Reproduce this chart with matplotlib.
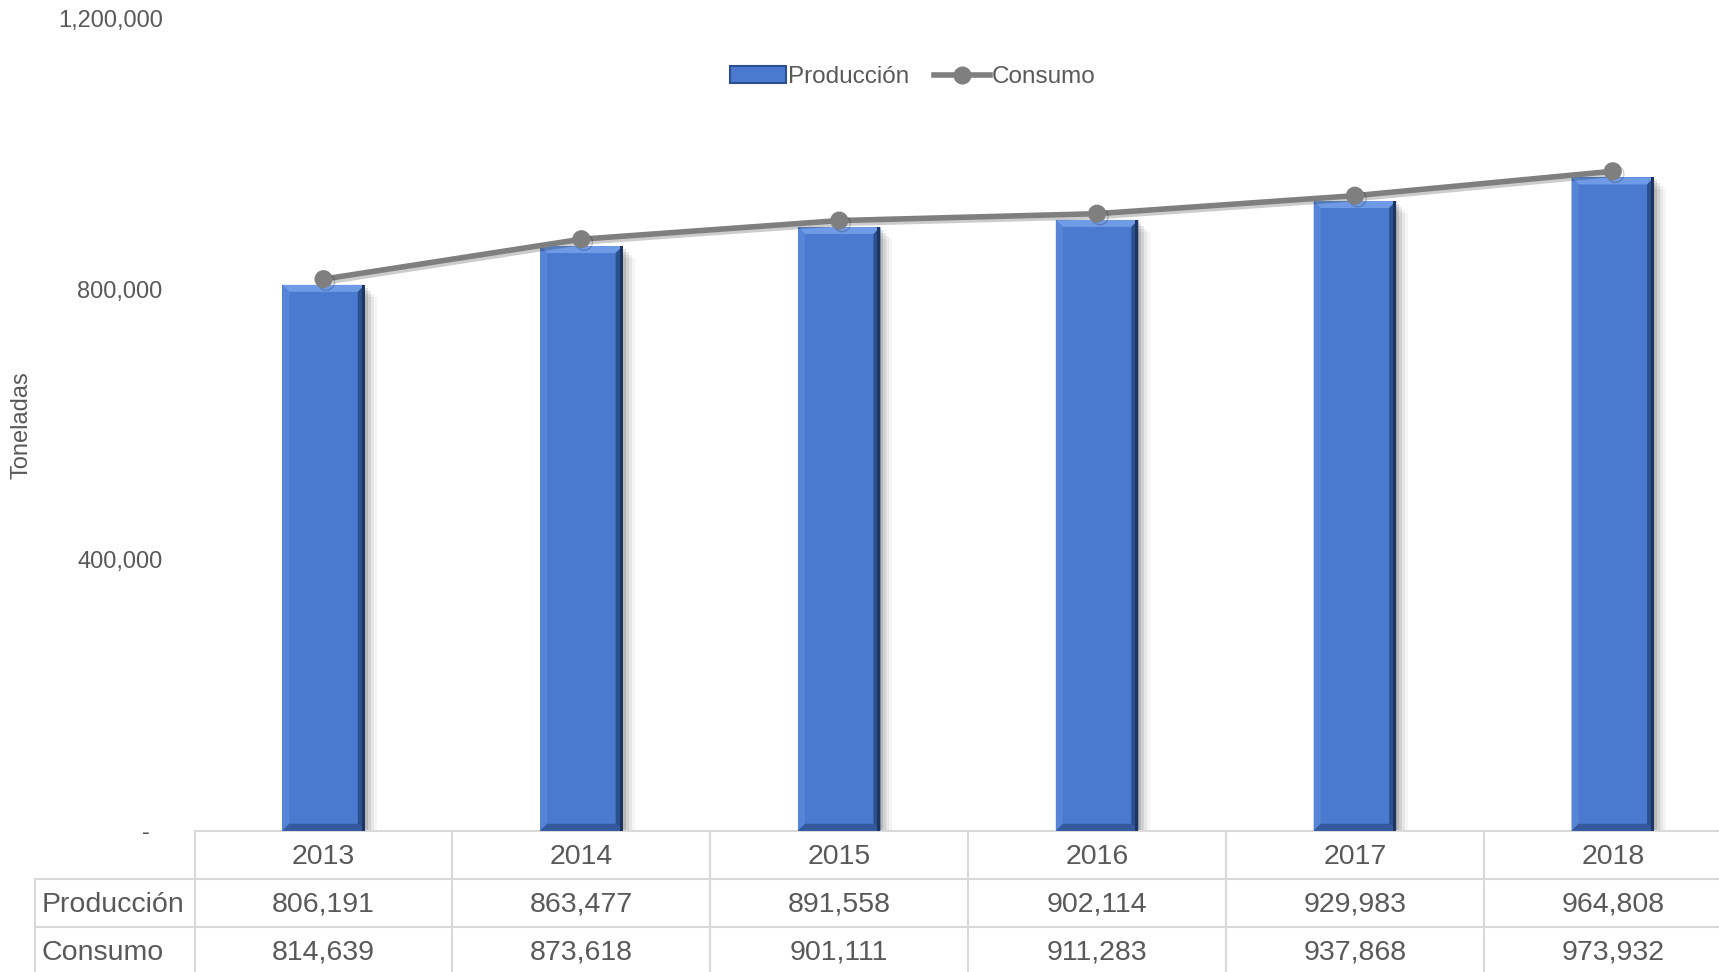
import numpy as np
import matplotlib
matplotlib.use('Agg')
import matplotlib.pyplot as plt
import matplotlib.patches as patches
import matplotlib.patheffects as pe
from matplotlib.lines import Line2D
from matplotlib.ticker import FuncFormatter

plt.rcParams['font.family'] = ['Liberation Sans', 'DejaVu Sans']

# data
years = ['2013', '2014', '2015', '2016', '2017', '2018']
produccion = [806191, 863477, 891558, 902114, 929983, 964808]
consumo = [814639, 873618, 901111, 911283, 937868, 973932]
yticks = [0, 400000, 800000, 1200000]

txt = '#595959'
blue = '#4a7ad0'
grid = '#d9d9d9'

fig = plt.figure(figsize=(17.19, 9.72), dpi=100)
ax = fig.add_axes([0.1132, 0.1453, 0.9, 0.836])
x = np.arange(len(years))
ax.set_xlim(-0.5, len(years) - 0.5)
ax.set_ylim(0, 1200000)

# pixel -> data conversion for the bevel/shadow
bb = ax.get_window_extent()
px_x = (len(years)) / bb.width
px_y = 1200000 / bb.height

bw = 0.32
bars = ax.bar(x, produccion, width=bw, color=blue, zorder=3)
b = 7
for r in bars:
    x0, y0 = r.get_x(), r.get_y()
    x1, y1 = x0 + r.get_width(), y0 + r.get_height()
    dx, dy = b * px_x, b * px_y
    # soft shadow on the right
    for k, a in [(12, 0.04), (9, 0.06), (6, 0.09), (3, 0.12)]:
        ax.add_patch(patches.Rectangle((x0 + k * px_x, y0), x1 - x0, y1 - y0 - k * px_y,
                                       color='black', alpha=a, lw=0, zorder=2))
    ax.add_patch(patches.Polygon([(x0, y1), (x1, y1), (x1 - dx, y1 - dy), (x0 + dx, y1 - dy)],
                                 color='#6f9be6', lw=0, zorder=4))
    ax.add_patch(patches.Polygon([(x0, y0), (x0 + dx, y0 + dy), (x0 + dx, y1 - dy), (x0, y1)],
                                 color='#5684d6', lw=0, zorder=4))
    ax.add_patch(patches.Polygon([(x1, y0), (x1 - dx, y0 + dy), (x1 - dx, y1 - dy), (x1, y1)],
                                 color='#2c4f8f', lw=0, zorder=4))
    ax.add_patch(patches.Polygon([(x0, y0), (x1, y0), (x1 - dx, y0 + dy), (x0 + dx, y0 + dy)],
                                 color='#34599c', lw=0, zorder=4))
    ax.add_patch(patches.Rectangle((x1 - 3 * px_x, y0), 3 * px_x, y1 - y0,
                                   color='#1d3560', lw=0, zorder=4))

ax.plot(x, consumo, color='#7f7f7f', lw=4, marker='o', ms=12, zorder=5,
        path_effects=[pe.SimpleLineShadow(offset=(2, -2), alpha=0.2), pe.Normal()])

for s in ['left', 'right', 'top', 'bottom']:
    ax.spines[s].set_visible(False)
ax.set_xticks([])
ax.set_yticks(yticks)
ax.yaxis.set_major_formatter(FuncFormatter(lambda v, p: '-  ' if v == 0 else f'{int(v):,}'))
ax.tick_params(axis='y', length=0, pad=23, labelsize=17, labelcolor=txt)

fig.text(22 / 1719, 1 - 425 / 972, 'Toneladas', rotation=90, ha='center', va='center',
         fontsize=17, color=txt)

# data table under the axis
h = 48 / bb.height
rows = [('', years), ('Producción', [f'{v:,}' for v in produccion]),
        ('Consumo', [f'{v:,}' for v in consumo])]
lab_x = -160 / bb.width
tr = ax.get_xaxis_transform()
for i, (lab, vals) in enumerate(rows):
    yc = -(i + 0.5) * h - 2 / bb.height
    for xi, v in zip(x, vals):
        ax.text(xi, yc, v, transform=tr, ha='center', va='center', fontsize=20.5,
                color=txt, clip_on=False)
    if lab:
        ax.text(lab_x + 7 / bb.width, yc, lab, transform=ax.transAxes, ha='left', va='center',
                fontsize=20.5, color=txt, clip_on=False)
bottom = -4 * h
ax.add_line(Line2D([-0.5, len(years) - 0.5], [0, 0], transform=tr, color=grid, lw=1.5, clip_on=False))
for k in [1, 2]:
    ax.add_line(Line2D([lab_x, 1], [-k * h, -k * h], transform=ax.transAxes, color=grid, lw=1.5,
                       clip_on=False))
for xb in np.arange(len(years) + 1) - 0.5:
    ax.add_line(Line2D([xb, xb], [0, bottom], transform=tr, color=grid, lw=1.5, clip_on=False))
ax.add_line(Line2D([lab_x, lab_x], [-h, bottom], transform=ax.transAxes, color=grid, lw=1.5,
                   clip_on=False))

handles = [patches.Patch(facecolor=blue, edgecolor='#2c4f8f', lw=1.5),
           Line2D([], [], color='#7f7f7f', lw=4, marker='o', ms=12)]
fig.legend(handles, ['Producción', 'Consumo'], loc='center', bbox_to_anchor=(0.531, 1 - 77 / 972),
           ncol=2, frameon=False, fontsize=17.5, labelcolor=txt, handlelength=2.3,
           handletextpad=0.1, columnspacing=1.0)

fig.savefig('out.png', dpi=100)
